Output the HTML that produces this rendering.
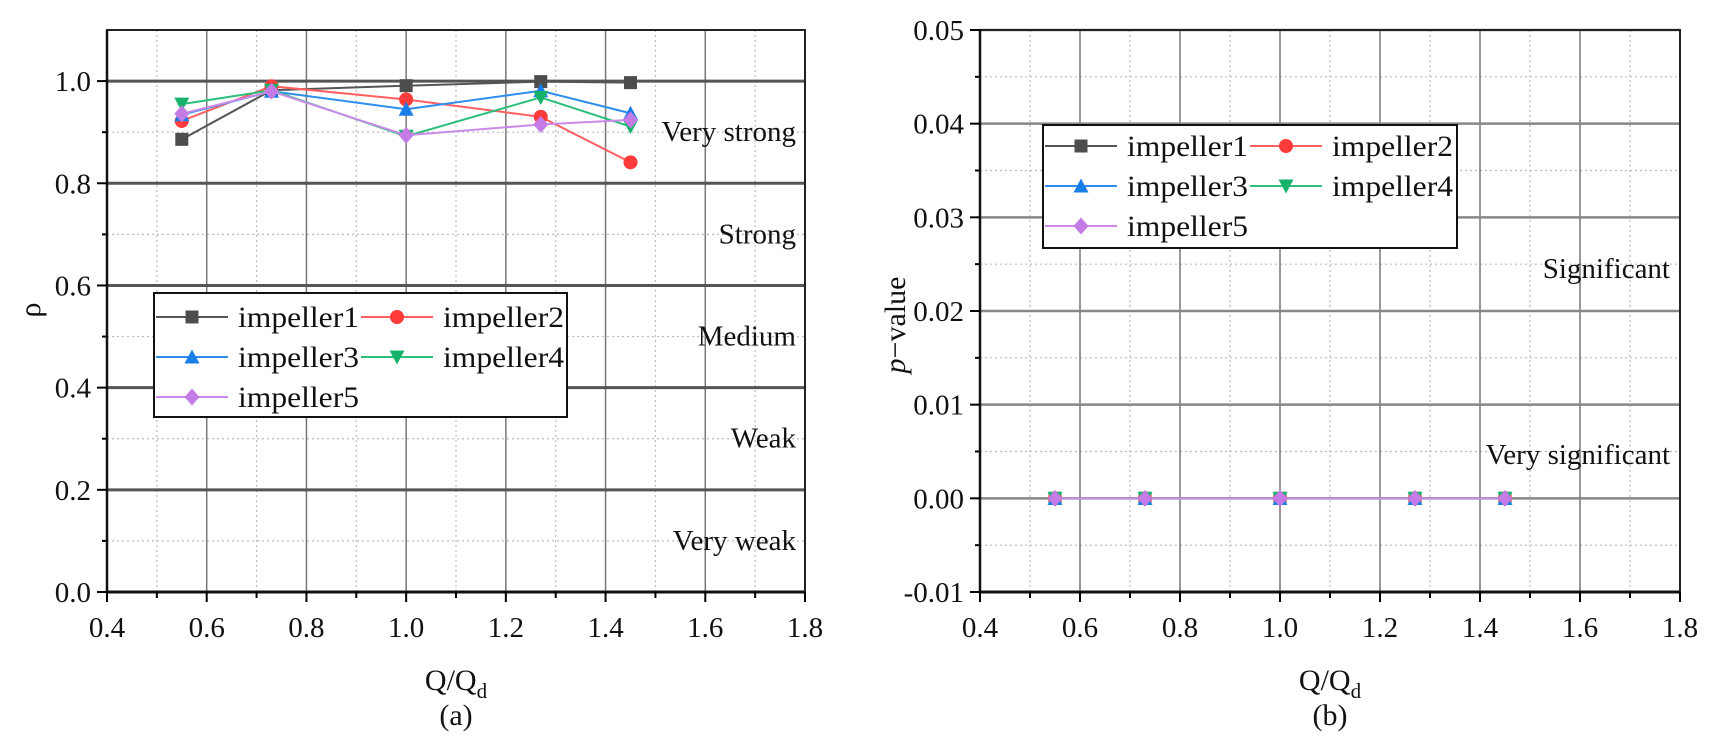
<!DOCTYPE html>
<html><head><meta charset="utf-8"><style>
html,body{margin:0;padding:0;background:#fff;}
svg{display:block;font-family:"Liberation Serif",serif;}
</style></head><body>
<svg id="chart" width="1709" height="746" viewBox="0 0 1709 746"></svg>
<script>
const xCats = [0.55, 0.73, 1.0, 1.27, 1.45];
const rho1 = [0.886, 0.982, 0.991, 0.999, 0.997];
const rho2 = [0.922, 0.99, 0.964, 0.930, 0.841];
const rho3 = [0.934, 0.98, 0.945, 0.981, 0.937];
const rho4 = [0.955, 0.982, 0.892, 0.968, 0.911];
const rho5 = [0.936, 0.98, 0.894, 0.915, 0.924];
const p1 = [0, 0, 0, 0, 0];
const p2 = [0, 0, 0, 0, 0];
const p3 = [0, 0, 0, 0, 0];
const p4 = [0, 0, 0, 0, 0];
const p5 = [0, 0, 0, 0, 0];
const xTicks = [0.4, 0.6, 0.8, 1.0, 1.2, 1.4, 1.6, 1.8];
const rhoTicks = [0.0, 0.2, 0.4, 0.6, 0.8, 1.0];
const pTicks = [-0.01, 0.0, 0.01, 0.02, 0.03, 0.04, 0.05];
const seriesNames = ["impeller1","impeller2","impeller3","impeller4","impeller5"];
const colors = ["#4d4d4d","#ff3b3b","#1a7ee8","#17b26a","#c57be6"];
const lineColors = ["#555","#ff6060","#2d8ef0","#2cbf7c","#c98ae8"];
const shapes = ["square","circle","up","down","diamond"];
const rhoBands = ["Very weak","Weak","Medium","Strong","Very strong"];
const rhoBandVals = [0.1,0.3,0.5,0.7,0.9];

const NS="http://www.w3.org/2000/svg";
const svg=document.getElementById('chart');
function mk(tag,attrs,parent){const e=document.createElementNS(NS,tag);for(const k in attrs)e.setAttribute(k,attrs[k]);(parent||svg).appendChild(e);return e;}

function marker(g,shape,cx,cy,col){
  let e;const s=6.5;
  if(shape==="square")e=mk('rect',{x:cx-s,y:cy-s,width:2*s,height:2*s,fill:col},g);
  else if(shape==="circle")e=mk('circle',{cx:cx,cy:cy,r:s+0.5,fill:col},g);
  else if(shape==="up")e=mk('polygon',{points:`${cx},${cy-s-1} ${cx-s-1},${cy+s} ${cx+s+1},${cy+s}`,fill:col},g);
  else if(shape==="down")e=mk('polygon',{points:`${cx},${cy+s+1} ${cx-s-1},${cy-s} ${cx+s+1},${cy-s}`,fill:col},g);
  else e=mk('polygon',{points:`${cx},${cy-s-2} ${cx+s+1},${cy} ${cx},${cy+s+2} ${cx-s-1},${cy}`,fill:col},g);
  return e;
}

function panel(cfg){
  const {L,R,T,B,ymin,ymax,yTicks,yMinor,data,name,fmt,yMajorStyle}=cfg;
  const g=mk('g',{});
  
  
  const sx=v=>L+(v-0.4)/(1.4)*(R-L);
  const sy=v=>B-(v-ymin)/(ymax-ymin)*(B-T);
  // minor grid
  for(let v=0.5;v<1.8;v+=0.2){const x=sx(v);mk('line',{x1:x,x2:x,y1:T,y2:B,stroke:'#bbb','stroke-width':1.2,'stroke-dasharray':'2,3'},g);}
  yMinor.forEach(v=>{const y=sy(v);mk('line',{x1:L,x2:R,y1:y,y2:y,stroke:'#bbb','stroke-width':1.2,'stroke-dasharray':'2,3'},g);
    mk('line',{x1:L-5,x2:L,y1:y,y2:y,stroke:'#000','stroke-width':2},g);});
  // major grid
  xTicks.forEach(v=>{const x=sx(v);mk('line',{x1:x,x2:x,y1:T,y2:B,stroke:'#777','stroke-width':1.5},g);});
  yTicks.forEach(v=>{const y=sy(v);mk('line',{x1:L,x2:R,y1:y,y2:y,stroke:yMajorStyle.c,'stroke-width':yMajorStyle.w},g);});
  // frame
  mk('rect',{x:L,y:T,width:R-L,height:B-T,fill:'none',stroke:'#222','stroke-width':2},g);
  mk('line',{x1:L,x2:R,y1:B,y2:B,stroke:'#111','stroke-width':3},g);
  mk('line',{x1:L,x2:L,y1:T,y2:B,stroke:'#111','stroke-width':2.5},g);
  // ticks
  for(let v=0.4;v<=1.81;v+=0.1){const x=sx(v);const maj=Math.abs(Math.round(v*10)%2)===0;
    mk('line',{x1:x,x2:x,y1:B,y2:B+(maj?10:6),stroke:'#000','stroke-width':2},g);}
  xTicks.forEach(v=>{const t=mk('text',{x:sx(v),y:B+45,'font-size':29,'text-anchor':'middle',fill:'#111'},g);t.textContent=v.toFixed(1);
    });
  yTicks.forEach(v=>{const y=sy(v);mk('line',{x1:L-10,x2:L,y1:y,y2:y,stroke:'#000','stroke-width':2},g);
    const t=mk('text',{x:L-16,y:y+10,'font-size':29,'text-anchor':'end',fill:'#111'},g);t.textContent=fmt(v);
    });
  // series
  data.forEach((arr,i)=>{
    const pts=arr.map((v,j)=>`${sx(xCats[j])},${sy(v)}`).join(' ');
    const pl=mk('polyline',{points:pts,fill:'none',stroke:lineColors[i],'stroke-width':2},g);
    
    
    arr.forEach((v,j)=>{const m=marker(g,shapes[i],sx(xCats[j]),sy(v),colors[i]);
      
      });
  });
  return {g,sx,sy};
}

function legend(x,y,w,h,rows,name){
  const g=mk('g',{});
  
  
  mk('rect',{x:x,y:y,width:w,height:h,fill:'#fff',stroke:'#111','stroke-width':2},g);
  const cols=[0,205];
  seriesNames.forEach((n,i)=>{
    const c=i%2,r=Math.floor(i/2);
    const lx=x+2+cols[c],ly=rows[r];
    mk('line',{x1:lx,x2:lx+72,y1:ly,y2:ly,stroke:lineColors[i],'stroke-width':2},g);
    marker(g,shapes[i],lx+36,ly,colors[i]);
    const t=mk('text',{x:lx+82,y:ly+10,'font-size':30,fill:'#111',textLength:121,lengthAdjust:'spacingAndGlyphs'},g);
    t.textContent=n;
    
    
  });
}

// Panel (a)
const A=panel({L:107,R:805,T:30,B:592,ymin:0,ymax:1.1,yTicks:rhoTicks,yMinor:[0.1,0.3,0.5,0.7,0.9],
  data:[rho1,rho2,rho3,rho4,rho5],name:'panel-a',fmt:v=>v.toFixed(1),yMajorStyle:{c:'#555',w:3}});
rhoBands.forEach((b,i)=>{const t=mk('text',{x:796,y:A.sy(rhoBandVals[i])+9,'font-size':29,'text-anchor':'end',fill:'#111'});
  t.textContent=b;});
legend(154,293,413,124,[317,357,397],'legend-a');

// Panel (b)
const Bp=panel({L:980,R:1680,T:30,B:592,ymin:-0.01,ymax:0.05,yTicks:pTicks,yMinor:[-0.005,0.005,0.015,0.025,0.035,0.045],
  data:[p1,p2,p3,p4,p5],name:'panel-b',fmt:v=>v.toFixed(2),yMajorStyle:{c:'#888',w:2.5}});
[["Significant",0.0245],["Very significant",0.0046]].forEach(([s,v])=>{const t=mk('text',{x:1670,y:Bp.sy(v)+9,'font-size':29,'text-anchor':'end',fill:'#111'});
  t.textContent=s;});
legend(1043,125,414,123,[146,186,226],'legend-b');

// axis titles
function title(x,y,html,name,rot){const t=mk('text',{x:x,y:y,'font-size':30,'text-anchor':'middle',fill:'#111'});
  if(rot)t.setAttribute('transform',`rotate(-90 ${x} ${y})`);t.innerHTML=html;
  return t;}
title(456,690,'Q/Q<tspan font-size="21" dy="8">d</tspan>','x-axis-title-a');
title(456,725,'(a)','caption-a');
title(1330,690,'Q/Q<tspan font-size="21" dy="8">d</tspan>','x-axis-title-b');
title(1330,725,'(b)','caption-b');
title(40,310,'ρ','y-axis-title-a',true);
title(905,325,'<tspan font-style="italic">p</tspan>−value','y-axis-title-b',true);
</script>
</body></html>
